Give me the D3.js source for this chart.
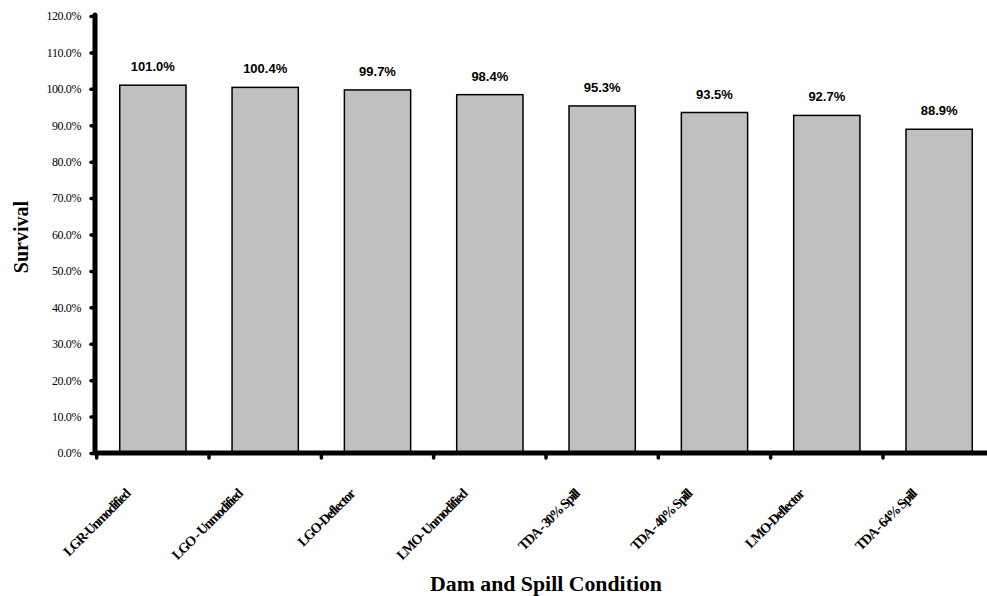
<!DOCTYPE html>
<html>
<head>
<meta charset="utf-8">
<script src="https://cdn.jsdelivr.net/npm/d3@7"></script>
<style>
  html, body { margin: 0; padding: 0; background: #fff; }
  svg { display: block; }
</style>
</head>
<body>
<svg id="chart" width="987" height="596"></svg>
<script>
const categories = ["LGR-Unmodified", "LGO - Unmodified", "LGO-Deflector", "LMO- Unmodified",
                    "TDA - 30% Spill", "TDA - 40% Spill", "LMO-Deflector", "TDA - 64% Spill"];
const survival = [101.0, 100.4, 99.7, 98.4, 95.3, 93.5, 92.7, 88.9];
const yTicks = [0, 10, 20, 30, 40, 50, 60, 70, 80, 90, 100, 110, 120];
const yTitle = "Survival";
const xTitle = "Dam and Spill Condition";

const svg = d3.select("#chart");
const x0 = 96.7, x1 = 995.3, yTop = 16, yBase = 453, axisX = 95;

const x = d3.scaleBand().domain(categories).range([x0, x1]).paddingInner(0.41).paddingOuter(0.205);
const y = d3.scaleLinear().domain([0, 120]).range([yBase, yTop]);

// bars
svg.append("g").selectAll("rect").data(categories).join("rect")
  .attr("x", d => x(d))
  .attr("y", (d, i) => y(survival[i]))
  .attr("width", x.bandwidth())
  .attr("height", (d, i) => y(0) - y(survival[i]))
  .attr("fill", "#c0c0c0")
  .attr("stroke", "#000")
  .attr("stroke-width", 1.5);

// value labels
svg.append("g").selectAll("text").data(categories).join("text")
  .attr("x", d => x(d) + x.bandwidth() / 2)
  .attr("y", (d, i) => y(survival[i]) - 14)
  .attr("text-anchor", "middle")
  .attr("font-family", "Liberation Sans, Arial, sans-serif")
  .attr("font-weight", "bold")
  .attr("font-size", 13)
  .text((d, i) => survival[i].toFixed(1) + "%");

// y axis
const yAxis = d3.axisLeft(y).tickValues(yTicks).tickSize(4).tickPadding(10)
  .tickFormat(d => d.toFixed(1) + "%");
const gy = svg.append("g").attr("transform", `translate(${axisX},0)`).call(yAxis);
gy.select(".domain").remove();
gy.selectAll(".tick line").attr("stroke", "#000").attr("stroke-width", 3.5).attr("stroke-linecap", "round");
gy.selectAll(".tick text")
  .attr("font-family", "Liberation Serif, Times New Roman, serif")
  .attr("font-size", 12)
  .attr("letter-spacing", -0.4)
  .attr("fill", "#000");

// x axis boundary ticks
const step = x.step();
const boundaries = d3.range(categories.length).map(i => x0 + i * step);
svg.append("g").selectAll("line").data(boundaries).join("line")
  .attr("x1", d => d).attr("x2", d => d)
  .attr("y1", yBase).attr("y2", yBase + 5)
  .attr("stroke", "#000").attr("stroke-width", 3.5).attr("stroke-linecap", "round");

// axis lines
svg.append("line").attr("x1", axisX).attr("x2", axisX).attr("y1", yTop - 1).attr("y2", yBase)
  .attr("stroke", "#000").attr("stroke-width", 5).attr("stroke-linecap", "round");
svg.append("line").attr("x1", axisX).attr("x2", 987).attr("y1", yBase).attr("y2", yBase)
  .attr("stroke", "#000").attr("stroke-width", 5);

// category labels
svg.append("g").selectAll("text").data(categories).join("text")
  .attr("transform", d => `translate(${x(d) + x.bandwidth() / 2 - 22},${495}) rotate(-45)`)
  .attr("text-anchor", "end")
  .attr("font-family", "Liberation Serif, Times New Roman, serif")
  .attr("font-weight", "bold")
  .attr("font-size", 14)
  .attr("letter-spacing", -1.3)
  .text(d => d);

// axis titles
svg.append("text")
  .attr("transform", "translate(28,237) rotate(-90)")
  .attr("text-anchor", "middle")
  .attr("font-family", "Liberation Serif, Times New Roman, serif")
  .attr("font-weight", "bold")
  .attr("font-size", 20)
  .text(yTitle);

svg.append("text")
  .attr("x", 546).attr("y", 591)
  .attr("text-anchor", "middle")
  .attr("font-family", "Liberation Serif, Times New Roman, serif")
  .attr("font-weight", "bold")
  .attr("font-size", 20)
  .attr("textLength", 232)
  .attr("lengthAdjust", "spacingAndGlyphs")
  .text(xTitle);
</script>
</body>
</html>
